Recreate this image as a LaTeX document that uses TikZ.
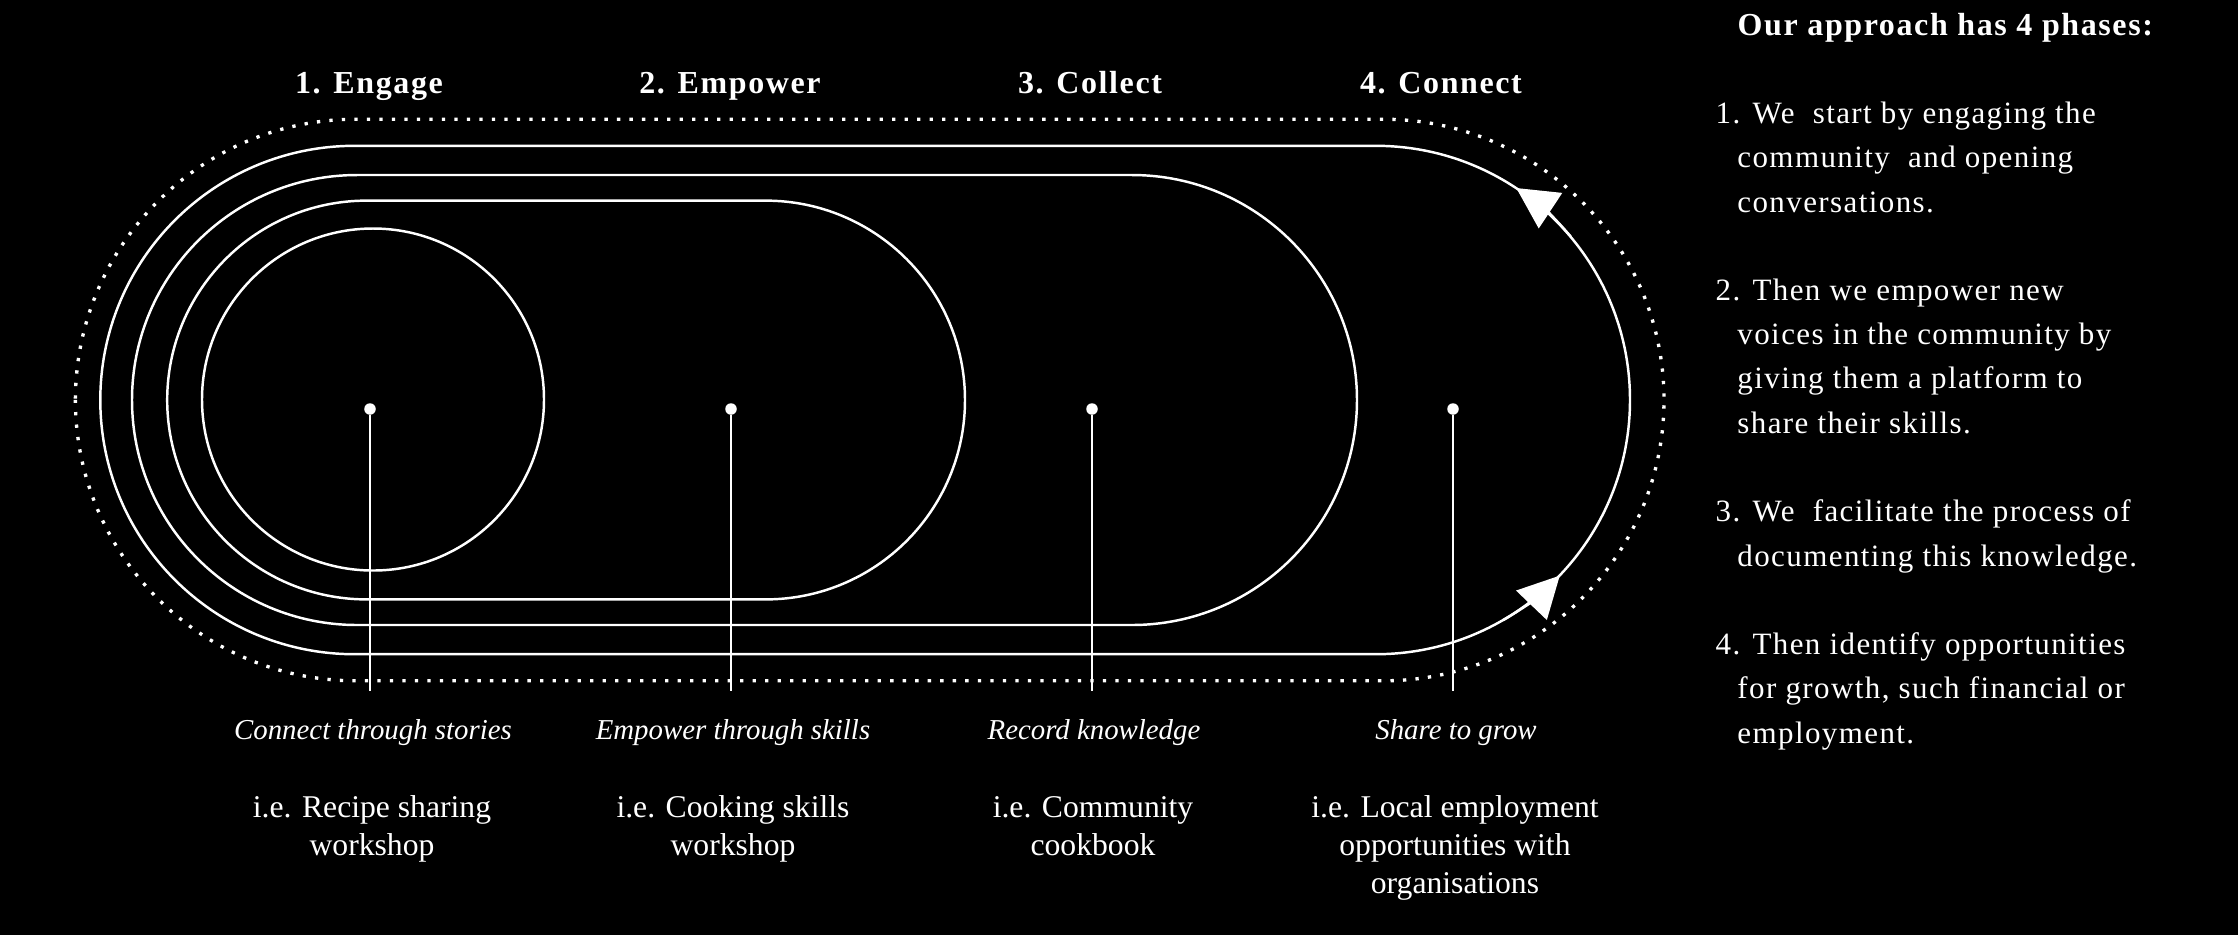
\documentclass[tikz,border=0pt]{standalone}
\usepackage{fontspec}
\setmainfont{Liberation Serif}
\newfontfamily\headfont[LetterSpace=5]{Liberation Serif}
\newfontfamily\bodyfont[LetterSpace=4.5]{Liberation Serif}
\usetikzlibrary{arrows.meta, positioning, calc}
\newcommand{\ind}{\hspace*{0.217cm}}

\begin{document}
\begin{tikzpicture}[
    x=0.01cm, y=-0.01cm,
    >={Triangle[length=4.1mm, width=4.2mm]},
    % estilos das pistas e dos textos
    track/.style={draw=white, line width=0.7pt, rounded corners=#1},
    ring/.style={draw=white, line width=0.95pt, dash pattern=on 0.33mm off 0.92mm, rounded corners=#1},
    dot/.style={circle, fill=white, inner sep=0pt, minimum size=1.15mm},
    stem/.style={draw=white, line width=0.7pt},
    phase/.style={text=white, inner sep=0pt, anchor=base, font=\headfont\bfseries\fontsize{9.1}{11}\selectfont},
    aim/.style={text=white, inner sep=0pt, anchor=base, font=\itshape\fontsize{8.2}{10}\selectfont},
    eg/.style={text=white, inner sep=0pt, anchor=base, align=center, font=\fontsize{9}{10.67}\selectfont},
    note/.style={text=white, inner sep=0pt, anchor=base west, align=left, font=\bodyfont\fontsize{8.82}{12.59}\selectfont}
]
    \useasboundingbox (0,0) rectangle (2238,935);
    \fill[black] (0,0) rectangle (2238,935);

    % ================= 1. PISTAS =================
    \draw[white, line width=0.7pt] (373,399.5) circle (171);
    \draw[track=1.994cm] (167.2,200.6) rectangle (965,599.4);
    \draw[track=2.25cm] (132,175) rectangle (1357,625);
    \draw[track=2.542cm] (100.3,145.8) rectangle (1630,654.2);
    \draw[ring=2.808cm] (75.4,119.2) rectangle (1664,680.8);

    % setas sobre a pista externa
    \coordinate (rc) at (1376,400);
    \draw[white, line width=0.7pt, ->] ([shift={(-40:254.2)}]rc) arc[start angle=-40, end angle=-56.5, radius=254.2];
    \draw[white, line width=0.7pt, ->] ([shift={(60:254.2)}]rc) arc[start angle=60, end angle=43.7, radius=254.2];

    % ================= 2. FASES =================
    \node[phase] (p1) at (369,93) {1. Engage};
    \node[phase] (p2) at (730,93) {2. Empower};
    \node[phase] (p3) at (1090,93) {3. Collect};
    \node[phase] (p4) at (1441,93) {4. Connect};

    \node[dot] (d1) at (370,409) {};
    \node[dot] (d2) at (731,409) {};
    \node[dot] (d3) at (1092,409) {};
    \node[dot] (d4) at (1453,409) {};
    \coordinate (s1) at (370,691);
    \coordinate (s2) at (731,691);
    \coordinate (s3) at (1092,691);
    \coordinate (s4) at (1453,691);
    \draw[stem] (d1) -- (s1);
    \draw[stem] (d2) -- (s2);
    \draw[stem] (d3) -- (s3);
    \draw[stem] (d4) -- (s4);

    % ================= 3. LEGENDAS =================
    \node[aim] (a1) at (373,739) {Connect through stories};
    \node[aim] (a2) at (733,739) {Empower through skills};
    \node[aim] (a3) at (1094,739) {Record knowledge};
    \node[aim] (a4) at (1456,739) {Share to grow};

    % (base = linha de base da ultima linha)
    \node[eg] (e1) at (372,855.5) {i.e. Recipe sharing\\workshop};
    \node[eg] (e2) at (733,855.5) {i.e. Cooking skills\\workshop};
    \node[eg] (e3) at (1093,855.5) {i.e. Community\\cookbook};
    \node[eg] (e4) at (1455,893) {i.e. Local employment\\opportunities with\\organisations};

    % ================= 4. TEXTO LATERAL =================
    \node[note, font=\headfont\bfseries\fontsize{9.1}{11}\selectfont] (intro) at (1737,35) {Our approach has 4 phases:};
    \node[note] (n1) at (1715,212) {1. We\ \ start by engaging the\\\ind community\ \ and opening\\\ind conversations.};
    \node[note] (n2) at (1715,433.25) {2. Then we empower new\\\ind voices in the community by\\\ind giving them a platform to\\\ind share their skills.};
    \node[note] (n3) at (1715,566) {3. We\ \ facilitate the process of\\\ind documenting this knowledge.};
    \node[note] (n4) at (1715,743) {4. Then identify opportunities\\\ind for growth, such financial or\\\ind employment.};

\end{tikzpicture}
\end{document}
